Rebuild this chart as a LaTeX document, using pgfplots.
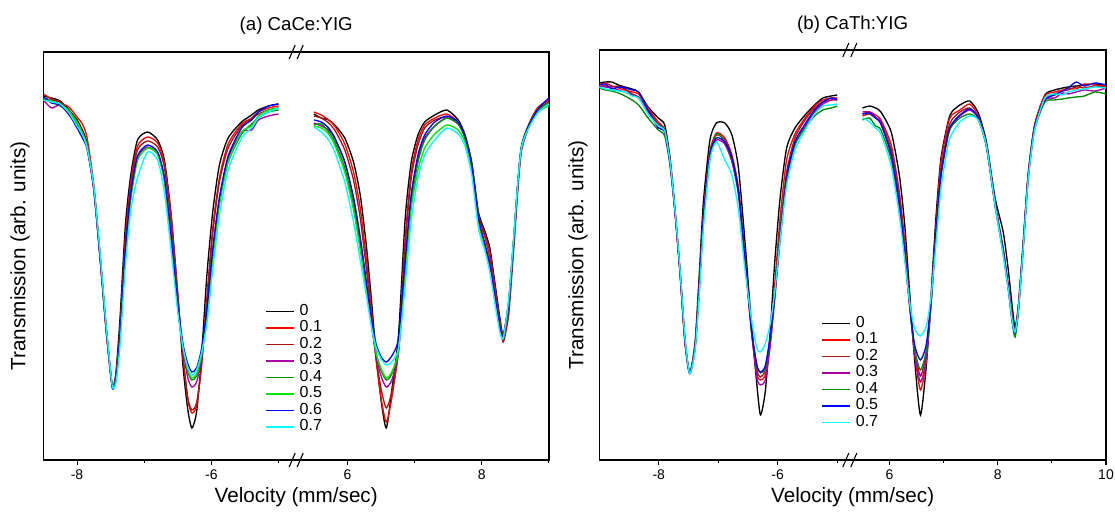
\documentclass[border=0pt]{standalone}
\usepackage{pgfplots}
\pgfplotsset{compat=1.18}
\usepackage{pgfplotstable}
\usepackage{fontspec}
\setmainfont{Liberation Sans}

\definecolor{cR}{RGB}{255,0,0}
\definecolor{cDR}{RGB}{170,20,20}
\definecolor{cP}{RGB}{170,0,170}
\definecolor{cDG}{RGB}{0,140,0}
\definecolor{cLG}{RGB}{0,230,0}
\definecolor{cB}{RGB}{0,0,255}
\definecolor{cC}{RGB}{0,255,255}

% (a) CaCe:YIG, negative velocities
\pgfplotstableread{
v s0 s1 s2 s3 s4 s5 s6 s7
-8.50 364 366 362 360 361 362 363 360
-8.38 362 361 360 352 358 359 357 358
-8.25 359 357 358 355 354 356 355 356
-8.12 350 353 348 345 347 349 346 347
-8.00 340 343 338 334 336 338 332 334
-7.92 330 336 328 324 326 327 322 325
-7.85 316 322 314 312 313 314 311 312
-7.75 271 275 270 270 272 273 271 273
-7.65 197 198 196 197 199 200 198 201
-7.57 133 133 132 134 135 136 135 137
-7.51 92 92 92 93 94 94 94 95
-7.47 72 72 73 72 72 73 71 72
-7.42 88 84 84 82 80 80 80 78
-7.36 142 132 130 125 122 122 124 115
-7.28 235 222 218 210 205 205 210 195
-7.20 285 278 274 268 262 262 266 250
-7.10 320 314 310 303 300 300 304 282
-6.95 328 323 319 313 312 312 315 308
-6.80 320 317 313 306 306 306 308 300
-6.70 300 297 293 280 282 280 283 268
-6.60 246 244 238 222 225 222 225 210
-6.50 165 166 162 152 155 152 155 148
-6.42 92 102 102 110 112 112 115 112
-6.35 50 60 62 82 88 90 96 92
-6.29 32 47 50 73 80 82 88 85
-6.22 48 54 57 78 84 86 92 90
-6.15 100 92 92 100 104 104 110 106
-6.07 182 160 155 148 145 142 148 135
-5.98 248 232 226 210 205 200 210 190
-5.88 295 282 278 262 258 255 262 245
-5.75 322 316 312 302 298 298 304 290
-5.55 338 336 334 328 326 328 332 322
-5.40 345 342 341 330 336 334 340 332
-5.30 350 348 346 340 342 344 348 342
-5.15 354 352 350 344 348 350 354 348
-5.00 356 354 352 346 350 352 356 352
}\ALL

% (a) CaCe:YIG, positive velocities
\pgfplotstableread{
v s0 s1 s2 s3 s4 s5 s6 s7
5.50 346 348 344 337 335 334 340 333
5.61 342 345 342 334 336 332 338 328
5.72 340 340 337 330 328 326 332 320
5.81 335 334 330 322 318 315 322 308
5.96 322 316 310 298 292 288 298 278
6.09 298 288 280 262 255 250 262 238
6.19 265 252 242 222 215 210 222 200
6.28 215 202 192 178 172 170 178 165
6.36 158 148 142 135 135 134 140 132
6.43 102 98 100 102 105 106 115 112
6.51 55 58 68 82 88 90 102 100
6.58 32 38 52 73 80 82 98 95
6.66 70 62 68 80 86 88 104 98
6.76 125 112 110 108 110 110 122 112
6.86 242 222 215 198 190 188 200 175
6.95 298 288 282 265 258 252 265 240
7.05 325 320 315 302 298 290 305 282
7.15 338 335 332 322 320 312 325 305
7.30 345 342 340 334 334 326 338 320
7.48 350 346 343 342 342 335 344 332
7.65 340 338 336 336 336 330 338 326
7.75 325 325 322 322 322 318 324 314
7.85 298 296 295 292 292 290 295 285
7.95 248 245 245 240 240 238 242 232
8.05 228 222 225 215 212 212 215 208
8.12 212 202 208 196 192 192 195 188
8.20 175 168 172 162 160 160 162 155
8.27 142 138 138 132 130 130 132 128
8.32 125 124 118 122 122 122 124 122
8.40 158 155 145 156 158 158 156 160
8.47 215 212 205 214 216 216 215 218
8.59 313 312 308 312 313 312 312 312
8.81 350 350 348 346 348 346 348 345
9.00 360 360 358 356 357 354 362 356
}\ALR

% (b) CaTh:YIG, negative velocities
\pgfplotstableread{
v s0 s1 s2 s3 s4 s5 s7
-9.00 377 375 376 374 372 375 373
-8.90 378 377 374 373 370 376 371
-8.79 378 374 373 372 369 371 370
-8.68 375 372 374 370 367 373 369
-8.57 373 370 371 368 364 372 368
-8.45 371 368 366 365 360 370 364
-8.34 368 366 363 362 355 368 362
-8.18 353 352 350 348 342 350 346
-8.01 342 338 336 334 330 332 334
-7.90 335 330 330 328 324 328 329
-7.81 302 298 298 296 294 296 298
-7.73 252 250 250 250 250 250 252
-7.64 185 185 186 186 187 186 188
-7.56 118 118 119 120 120 120 122
-7.48 87 87 87 87 87 86 86
-7.39 118 114 114 112 112 112 110
-7.32 185 175 175 172 170 170 165
-7.25 258 245 245 240 238 240 232
-7.14 320 308 308 304 302 305 300
-7.03 337 327 325 320 326 322 318
-6.89 337 322 320 316 318 318 300
-6.77 325 305 302 298 300 302 285
-6.66 292 272 270 265 268 268 250
-6.55 218 205 202 198 200 200 190
-6.44 135 128 130 128 130 130 140
-6.35 75 86 90 82 94 95 112
-6.29 45 80 83 75 87 88 108
-6.21 68 85 90 80 92 94 116
-6.13 125 115 120 112 120 122 135
-6.05 198 175 168 160 165 165 168
-5.96 262 242 230 220 225 222 220
-5.85 312 300 288 280 282 282 275
-5.71 332 326 322 316 315 318 310
-5.54 345 342 340 334 332 336 330
-5.38 355 354 352 348 344 350 346
-5.24 362 360 358 356 350 358 354
-5.10 364 362 360 360 352 362 355
-5.00 365 362 360 362 354 360 356
}\BLL

% (b) CaTh:YIG, positive velocities
\pgfplotstableread{
v s0 s1 s2 s3 s4 s5 s7
5.50 352 346 344 348 340 346 342
5.63 354 348 346 348 342 347 338
5.74 352 345 342 343 334 342 332
5.84 348 340 338 336 330 336 326
6.03 328 315 310 306 300 305 294
6.18 285 268 262 256 252 255 245
6.28 235 218 212 208 204 206 200
6.37 168 160 158 156 154 155 158
6.46 102 108 112 108 112 116 132
6.57 45 70 84 78 90 100 124
6.68 95 100 108 102 110 116 134
6.77 168 160 162 158 160 162 165
6.86 245 236 232 228 226 228 218
6.95 302 298 290 285 284 285 272
7.08 338 336 330 325 324 326 315
7.15 348 345 340 335 334 336 326
7.30 355 350 348 344 342 345 338
7.48 359 356 352 350 346 351 344
7.64 347 344 342 342 340 342 340
7.79 318 315 314 314 313 315 314
7.95 262 258 256 255 254 256 255
8.10 228 210 212 208 206 208 205
8.19 192 175 176 174 172 174 172
8.27 152 140 140 140 136 138 138
8.32 133 130 130 128 123 127 128
8.38 155 152 152 150 148 150 150
8.47 218 216 215 214 212 214 212
8.56 285 284 283 282 280 282 280
8.68 335 334 333 332 330 332 330
8.87 365 364 362 360 358 360 362
9.05 370 368 366 362 360 365 366
9.20 372 370 369 367 361 369 365
9.30 373 372 370 366 362 372 368
9.45 374 371 373 368 363 378 370
9.60 375 376 372 370 364 374 371
9.80 376 375 374 369 368 377 373
10.0 375 374 373 372 366 375 372
}\BLR

\pgfplotsset{
  common/.style={
    scale only axis, anchor=south west, clip=false,
    axis line style={line width=1.1pt},
    ytick=\empty, xtick pos=lower, tick align=outside,
    major tick length=4pt, minor tick length=2.5pt,
    tick style={line width=0.8pt, black},
    every axis plot/.append style={line width=1pt, smooth, tension=0.4},
    tick label style={font=\fontsize{10.5}{12}\selectfont},
    label style={font=\fontsize{15.5}{18}\selectfont},
    xlabel={Velocity (mm/sec)},
    ylabel={Transmission (arb. units)},
    legend cell align=left,
    legend image code/.code={\draw[##1, line width=1.2pt] (0pt,0pt) -- (21pt,0pt);},
    legend style={draw=none, fill=none, inner sep=0pt, row sep=0pt,
      font=\fontsize{12}{13}\selectfont,
      nodes={inner sep=0pt, text height=9pt, text depth=3.4pt},
      /tikz/every odd column/.append style={column sep=3.75pt}},
  }
}

\begin{document}
\begin{tikzpicture}
\path[use as bounding box] (0pt,0pt) rectangle (836.25pt,384.75pt);

% ---------- (a) ----------
\begin{axis}[common,
  at={(32.6pt,39.75pt)}, width=379.1pt, height=306pt,
  xmin=0, xmax=7.5265, ymin=0, ymax=408,
  xtick={0.5,2.5,4.5265,6.5265}, xticklabels={{-8},{-6},{6},{8}},
  minor xtick={1.5,3.5,5.5265,7.5265},
  title={(a) CaCe:YIG},
  every axis title/.style={at={(axis description cs:0.5,1.064)}, anchor=center, font=\fontsize{14}{16}\selectfont},
  xlabel style={at={(axis description cs:0.5,-0.0907)}, anchor=center},
  ylabel style={at={(axis description cs:-0.0465,0.5)}, anchor=center},
  legend style={at={(axis description cs:0.438,0.385)}, anchor=north west},
  legend entries={0,0.1,0.2,0.3,0.4,0.5,0.6,0.7},
]
\addplot[black] table[x expr=\thisrow{v}+8.5, y=s0]{\ALL};
\addplot[cR] table[x expr=\thisrow{v}+8.5, y=s1]{\ALL};
\addplot[cDR] table[x expr=\thisrow{v}+8.5, y=s2]{\ALL};
\addplot[cP] table[x expr=\thisrow{v}+8.5, y=s3]{\ALL};
\addplot[cDG] table[x expr=\thisrow{v}+8.5, y=s4]{\ALL};
\addplot[cLG] table[x expr=\thisrow{v}+8.5, y=s5]{\ALL};
\addplot[cB] table[x expr=\thisrow{v}+8.5, y=s6]{\ALL};
\addplot[cC] table[x expr=\thisrow{v}+8.5, y=s7]{\ALL};
\addplot[black, forget plot] table[x expr=\thisrow{v}-1.4735, y=s0]{\ALR};
\addplot[cR, forget plot] table[x expr=\thisrow{v}-1.4735, y=s1]{\ALR};
\addplot[cDR, forget plot] table[x expr=\thisrow{v}-1.4735, y=s2]{\ALR};
\addplot[cP, forget plot] table[x expr=\thisrow{v}-1.4735, y=s3]{\ALR};
\addplot[cDG, forget plot] table[x expr=\thisrow{v}-1.4735, y=s4]{\ALR};
\addplot[cLG, forget plot] table[x expr=\thisrow{v}-1.4735, y=s5]{\ALR};
\addplot[cB, forget plot] table[x expr=\thisrow{v}-1.4735, y=s6]{\ALR};
\addplot[cC, forget plot] table[x expr=\thisrow{v}-1.4735, y=s7]{\ALR};
\draw[line width=0.8pt] ([xshift=-5.25pt,yshift=-5.25pt]axis cs:3.763,0) -- ++(4.5pt,10.5pt);
\draw[line width=0.8pt] ([xshift=0.75pt,yshift=-5.25pt]axis cs:3.763,0) -- ++(4.5pt,10.5pt);
\draw[line width=0.8pt] ([xshift=-5.25pt,yshift=-5.25pt]axis cs:3.763,408) -- ++(4.5pt,10.5pt);
\draw[line width=0.8pt] ([xshift=0.75pt,yshift=-5.25pt]axis cs:3.763,408) -- ++(4.5pt,10.5pt);
\end{axis}

% ---------- (b) ----------
\begin{axis}[common,
  at={(449.5pt,39.75pt)}, width=380pt, height=307.5pt,
  xmin=0, xmax=8.5214, ymin=0, ymax=410,
  xtick={1,3,4.8814,6.7014,8.5214}, xticklabels={{-8},{-6},{6},{8},{10}},
  minor xtick={2,4,5.7914,7.6114},
  title={(b) CaTh:YIG},
  every axis title/.style={at={(axis description cs:0.5,1.061)}, anchor=center, font=\fontsize{14}{16}\selectfont},
  xlabel style={at={(axis description cs:0.5,-0.0902)}, anchor=center},
  ylabel style={at={(axis description cs:-0.042,0.5)}, anchor=center},
  legend style={at={(axis description cs:0.4375,0.354)}, anchor=north west},
  legend entries={0,0.1,0.2,0.3,0.4,0.5,0.7},
]
\addplot[black] table[x expr=\thisrow{v}+9, y=s0]{\BLL};
\addplot[cR] table[x expr=\thisrow{v}+9, y=s1]{\BLL};
\addplot[cDR] table[x expr=\thisrow{v}+9, y=s2]{\BLL};
\addplot[cP] table[x expr=\thisrow{v}+9, y=s3]{\BLL};
\addplot[cDG] table[x expr=\thisrow{v}+9, y=s4]{\BLL};
\addplot[cB] table[x expr=\thisrow{v}+9, y=s5]{\BLL};
\addplot[cC] table[x expr=\thisrow{v}+9, y=s7]{\BLL};
\addplot[black, forget plot] table[x expr=4.4264+(\thisrow{v}-5.5)*0.91, y=s0]{\BLR};
\addplot[cR, forget plot] table[x expr=4.4264+(\thisrow{v}-5.5)*0.91, y=s1]{\BLR};
\addplot[cDR, forget plot] table[x expr=4.4264+(\thisrow{v}-5.5)*0.91, y=s2]{\BLR};
\addplot[cP, forget plot] table[x expr=4.4264+(\thisrow{v}-5.5)*0.91, y=s3]{\BLR};
\addplot[cDG, forget plot] table[x expr=4.4264+(\thisrow{v}-5.5)*0.91, y=s4]{\BLR};
\addplot[cB, forget plot] table[x expr=4.4264+(\thisrow{v}-5.5)*0.91, y=s5]{\BLR};
\addplot[cC, forget plot] table[x expr=4.4264+(\thisrow{v}-5.5)*0.91, y=s7]{\BLR};
\draw[line width=0.8pt] ([xshift=-5.25pt,yshift=-5.25pt]axis cs:4.2132,0) -- ++(4.5pt,10.5pt);
\draw[line width=0.8pt] ([xshift=0.75pt,yshift=-5.25pt]axis cs:4.2132,0) -- ++(4.5pt,10.5pt);
\draw[line width=0.8pt] ([xshift=-5.25pt,yshift=-5.25pt]axis cs:4.2132,410) -- ++(4.5pt,10.5pt);
\draw[line width=0.8pt] ([xshift=0.75pt,yshift=-5.25pt]axis cs:4.2132,410) -- ++(4.5pt,10.5pt);
\end{axis}
\end{tikzpicture}
\end{document}
